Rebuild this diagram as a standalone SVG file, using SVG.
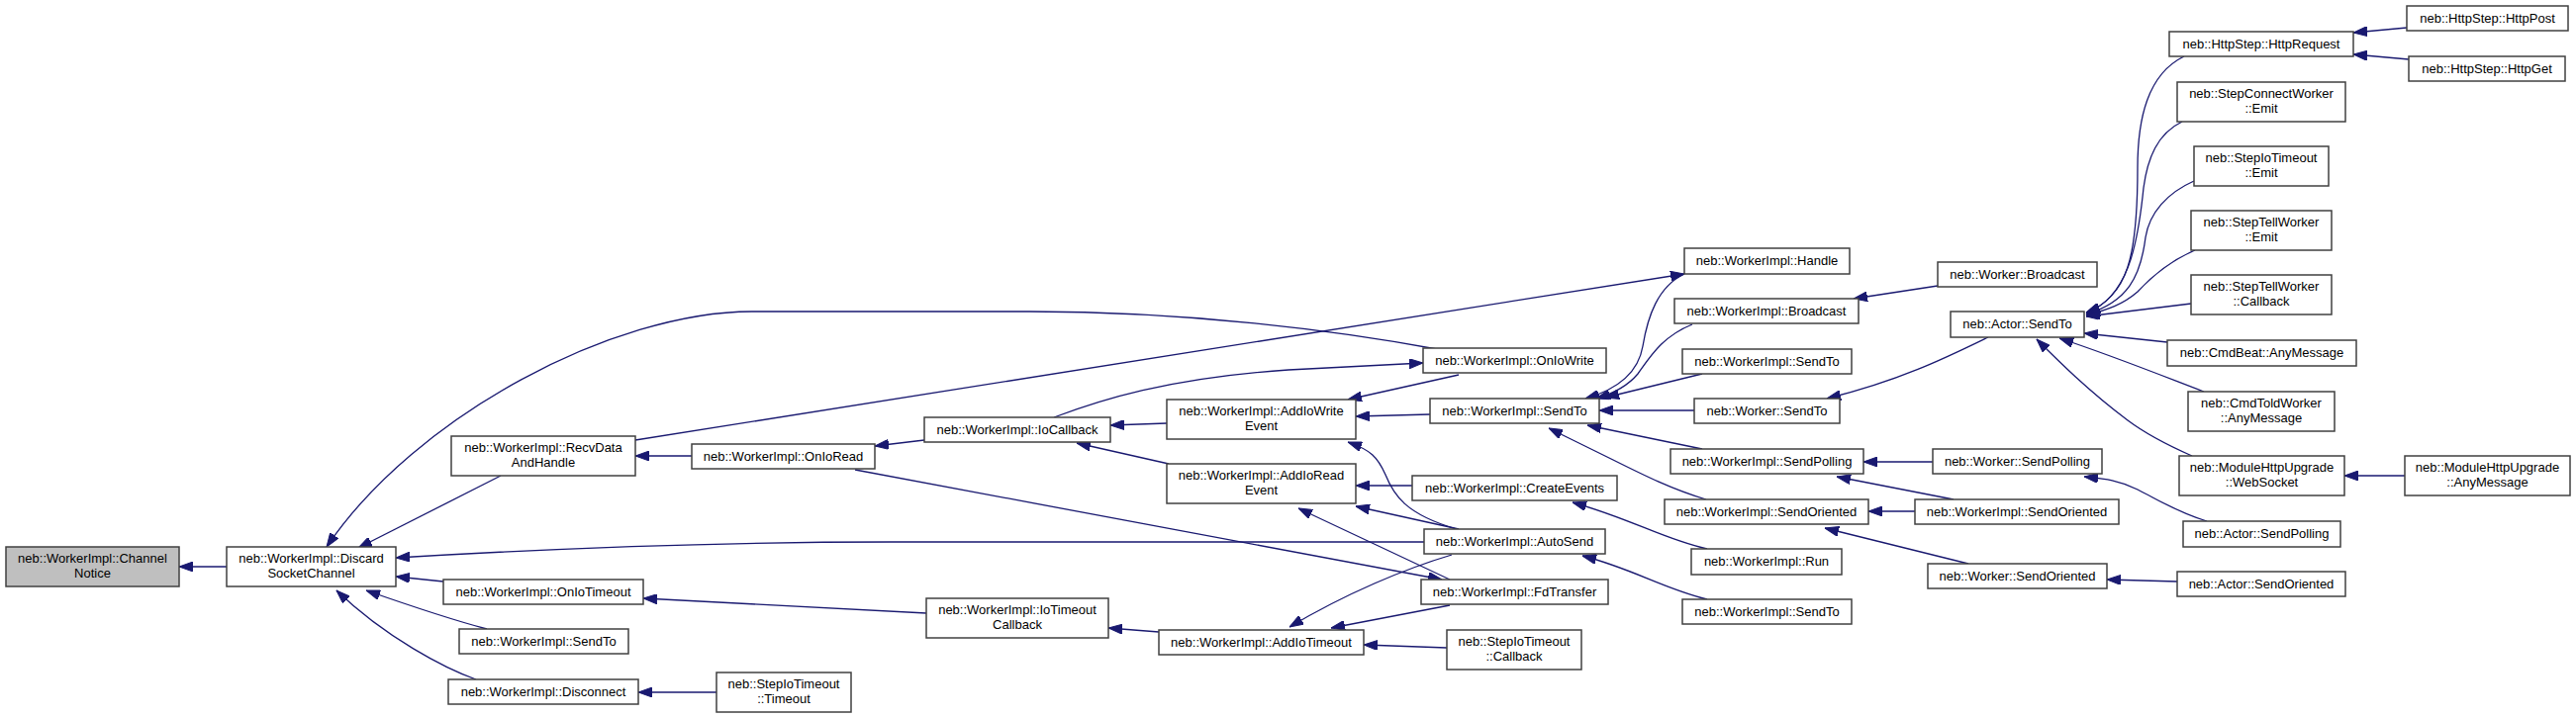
<svg xmlns="http://www.w3.org/2000/svg" width="2603" height="725" viewBox="0 0 2603 725">
<style>
.n rect{fill:#ffffff;stroke:#404040;stroke-width:1.5}
.n.root rect{fill:#bfbfbf}
.n text{font-family:"Liberation Sans",Arial,sans-serif;font-size:13px;fill:#000000;text-anchor:middle}
.e path{fill:none;stroke:#191970;stroke-width:1.3;marker-end:url(#ah)}
</style>
<defs>
<marker id="ah" viewBox="0 0 14 10" refX="14" refY="5" markerWidth="14" markerHeight="10" markerUnits="userSpaceOnUse" orient="auto">
<path d="M0,0 L14,5 L0,10 z" fill="#191970" stroke="#191970" stroke-width="1"/>
</marker>
</defs>
<rect x="0" y="0" width="2603" height="725" fill="#ffffff"/>
<g id="edges" class="e">
<path d="M229,573 L181,573"/>
<path d="M506,481 L362,554"/>
<path d="M1452,353 C1350,334 1200,315 1040,315 L760,315 C620,315 420,420 330,553"/>
<path d="M642,445 L1702,277"/>
<path d="M699,461 L642,461"/>
<path d="M934,445 L884,451"/>
<path d="M864,475 L1457,586"/>
<path d="M1439,548 L900,548 C700,548 500,558 400,564"/>
<path d="M448,588 L400,583"/>
<path d="M492,636 Q450,625 370,597"/>
<path d="M481,687 C450,676 390,645 340,597"/>
<path d="M936,620 L650,605"/>
<path d="M724,700 L645,700"/>
<path d="M1171,639 L1120,635"/>
<path d="M1179,428 L1122,430"/>
<path d="M1181,469 L1088,448"/>
<path d="M1065,422 C1110,405 1180,382 1302,374 L1438,367"/>
<path d="M1474,379 L1362,404"/>
<path d="M1445,419 L1370,421"/>
<path d="M1472,535 C1420,520 1408,500 1400,480 C1392,462 1385,455 1362,447"/>
<path d="M1427,491 L1370,491"/>
<path d="M1474,535 L1370,512"/>
<path d="M1465,586 L1312,514"/>
<path d="M1467,561 C1420,575 1360,600 1303,634"/>
<path d="M1465,612 L1345,635"/>
<path d="M1462,655 L1378,652"/>
<path d="M1725,606 C1680,595 1650,575 1599,562"/>
<path d="M1725,555 C1680,545 1650,525 1589,508"/>
<path d="M1702,277 C1675,290 1665,320 1660,350 C1655,380 1630,395 1602,403"/>
<path d="M1710,328 C1680,340 1668,360 1655,378 C1645,390 1630,398 1613,403"/>
<path d="M1720,378 L1622,402"/>
<path d="M1712,415 L1616,415"/>
<path d="M1720,454 L1604,430"/>
<path d="M1724,505 C1690,495 1660,480 1630,465 L1565,433"/>
<path d="M1958,289 L1873,302"/>
<path d="M2009,341 C1970,360 1920,385 1846,403"/>
<path d="M1953,467 L1883,467"/>
<path d="M1974,505 L1856,482"/>
<path d="M1935,517 L1888,517"/>
<path d="M1989,570 L1844,534"/>
<path d="M2230,527 C2200,518 2180,505 2160,495 C2140,485 2125,484 2106,482"/>
<path d="M2200,588 L2129,586"/>
<path d="M2207,57 C2170,75 2160,120 2160,170 C2160,260 2150,300 2108,316"/>
<path d="M2205,123 C2180,135 2170,160 2166,190 C2160,250 2150,300 2108,317"/>
<path d="M2217,183 C2190,195 2172,215 2168,240 C2163,280 2150,305 2108,318"/>
<path d="M2218,253 C2190,265 2172,282 2160,295 C2145,308 2130,313 2108,319"/>
<path d="M2214,307 L2108,320"/>
<path d="M2190,346 L2106,337"/>
<path d="M2227,396 C2180,378 2130,358 2081,342"/>
<path d="M2215,461 C2190,450 2170,440 2150,425 C2110,395 2080,365 2058,343"/>
<path d="M2432,28 L2378,33"/>
<path d="M2434,60 L2378,55"/>
<path d="M2430,481 L2369,481"/>
</g>
<g id="n_channelnotice" class="n root"><rect x="6" y="553" width="175" height="40"/><text x="93.5" y="569">neb::WorkerImpl::Channel</text><text x="93.5" y="584">Notice</text></g>
<g id="n_discard" class="n"><rect x="229" y="553" width="171" height="40"/><text x="314.5" y="569">neb::WorkerImpl::Discard</text><text x="314.5" y="584">SocketChannel</text></g>
<g id="n_recvdata" class="n"><rect x="456" y="441" width="186" height="40"/><text x="549" y="457">neb::WorkerImpl::RecvData</text><text x="549" y="472">AndHandle</text></g>
<g id="n_onioread" class="n"><rect x="699" y="449" width="185" height="25"/><text x="791.5" y="466">neb::WorkerImpl::OnIoRead</text></g>
<g id="n_oniotimeout" class="n"><rect x="448" y="586" width="202" height="25"/><text x="549" y="603">neb::WorkerImpl::OnIoTimeout</text></g>
<g id="n_sendto_a" class="n"><rect x="464" y="636" width="171" height="25"/><text x="549.5" y="653">neb::WorkerImpl::SendTo</text></g>
<g id="n_disconnect" class="n"><rect x="453" y="687" width="192" height="25"/><text x="549" y="704">neb::WorkerImpl::Disconnect</text></g>
<g id="n_timeout" class="n"><rect x="724" y="680" width="136" height="40"/><text x="792" y="696">neb::StepIoTimeout</text><text x="792" y="711">::Timeout</text></g>
<g id="n_iocallback" class="n"><rect x="934" y="422" width="188" height="25"/><text x="1028" y="439">neb::WorkerImpl::IoCallback</text></g>
<g id="n_iotimeoutcb" class="n"><rect x="936" y="605" width="184" height="40"/><text x="1028" y="621">neb::WorkerImpl::IoTimeout</text><text x="1028" y="636">Callback</text></g>
<g id="n_addiowrite" class="n"><rect x="1179" y="404" width="191" height="40"/><text x="1274.5" y="420">neb::WorkerImpl::AddIoWrite</text><text x="1274.5" y="435">Event</text></g>
<g id="n_addioread" class="n"><rect x="1179" y="469" width="191" height="40"/><text x="1274.5" y="485">neb::WorkerImpl::AddIoRead</text><text x="1274.5" y="500">Event</text></g>
<g id="n_addiotimeout" class="n"><rect x="1171" y="637" width="207" height="25"/><text x="1274.5" y="654">neb::WorkerImpl::AddIoTimeout</text></g>
<g id="n_oniowrite" class="n"><rect x="1438" y="352" width="185" height="25"/><text x="1530.5" y="369">neb::WorkerImpl::OnIoWrite</text></g>
<g id="n_sendto_b" class="n"><rect x="1445" y="403" width="171" height="25"/><text x="1530.5" y="420">neb::WorkerImpl::SendTo</text></g>
<g id="n_createevents" class="n"><rect x="1427" y="481" width="207" height="25"/><text x="1530.5" y="498">neb::WorkerImpl::CreateEvents</text></g>
<g id="n_autosend" class="n"><rect x="1439" y="535" width="183" height="25"/><text x="1530.5" y="552">neb::WorkerImpl::AutoSend</text></g>
<g id="n_fdtransfer" class="n"><rect x="1436" y="586" width="189" height="25"/><text x="1530.5" y="603">neb::WorkerImpl::FdTransfer</text></g>
<g id="n_callback" class="n"><rect x="1462" y="637" width="136" height="40"/><text x="1530" y="653">neb::StepIoTimeout</text><text x="1530" y="668">::Callback</text></g>
<g id="n_handle" class="n"><rect x="1702" y="251" width="167" height="26"/><text x="1785.5" y="268">neb::WorkerImpl::Handle</text></g>
<g id="n_broadcast" class="n"><rect x="1692" y="302" width="186" height="25"/><text x="1785" y="319">neb::WorkerImpl::Broadcast</text></g>
<g id="n_sendto_c" class="n"><rect x="1700" y="353" width="171" height="25"/><text x="1785.5" y="370">neb::WorkerImpl::SendTo</text></g>
<g id="n_worker_sendto" class="n"><rect x="1712" y="403" width="147" height="25"/><text x="1785.5" y="420">neb::Worker::SendTo</text></g>
<g id="n_sendpolling" class="n"><rect x="1688" y="454" width="195" height="25"/><text x="1785.5" y="471">neb::WorkerImpl::SendPolling</text></g>
<g id="n_sendoriented_a" class="n"><rect x="1682" y="505" width="206" height="25"/><text x="1785" y="522">neb::WorkerImpl::SendOriented</text></g>
<g id="n_run" class="n"><rect x="1709" y="555" width="152" height="26"/><text x="1785" y="572">neb::WorkerImpl::Run</text></g>
<g id="n_sendto_d" class="n"><rect x="1700" y="606" width="171" height="25"/><text x="1785.5" y="623">neb::WorkerImpl::SendTo</text></g>
<g id="n_worker_broadcast" class="n"><rect x="1958" y="265" width="161" height="25"/><text x="2038.5" y="282">neb::Worker::Broadcast</text></g>
<g id="n_actor_sendto" class="n"><rect x="1971" y="315" width="135" height="26"/><text x="2038.5" y="332">neb::Actor::SendTo</text></g>
<g id="n_worker_sendpolling" class="n"><rect x="1953" y="454" width="171" height="25"/><text x="2038.5" y="471">neb::Worker::SendPolling</text></g>
<g id="n_sendoriented_b" class="n"><rect x="1935" y="505" width="206" height="25"/><text x="2038" y="522">neb::WorkerImpl::SendOriented</text></g>
<g id="n_worker_sendoriented" class="n"><rect x="1948" y="570" width="181" height="25"/><text x="2038.5" y="587">neb::Worker::SendOriented</text></g>
<g id="n_httprequest" class="n"><rect x="2192" y="32" width="186" height="25"/><text x="2285" y="49">neb::HttpStep::HttpRequest</text></g>
<g id="n_httppost" class="n"><rect x="2432" y="6" width="163" height="25"/><text x="2513.5" y="23">neb::HttpStep::HttpPost</text></g>
<g id="n_httpget" class="n"><rect x="2434" y="57" width="158" height="25"/><text x="2513" y="74">neb::HttpStep::HttpGet</text></g>
<g id="n_stepconnect" class="n"><rect x="2200" y="83" width="170" height="40"/><text x="2285" y="99">neb::StepConnectWorker</text><text x="2285" y="114">::Emit</text></g>
<g id="n_stepiotimeout_emit" class="n"><rect x="2217" y="148" width="136" height="40"/><text x="2285" y="164">neb::StepIoTimeout</text><text x="2285" y="179">::Emit</text></g>
<g id="n_steptell_emit" class="n"><rect x="2214" y="213" width="142" height="40"/><text x="2285" y="229">neb::StepTellWorker</text><text x="2285" y="244">::Emit</text></g>
<g id="n_steptell_cb" class="n"><rect x="2214" y="278" width="142" height="40"/><text x="2285" y="294">neb::StepTellWorker</text><text x="2285" y="309">::Callback</text></g>
<g id="n_cmdbeat" class="n"><rect x="2190" y="344" width="191" height="26"/><text x="2285.5" y="361">neb::CmdBeat::AnyMessage</text></g>
<g id="n_cmdtold" class="n"><rect x="2211" y="396" width="148" height="40"/><text x="2285" y="412">neb::CmdToldWorker</text><text x="2285" y="427">::AnyMessage</text></g>
<g id="n_websocket" class="n"><rect x="2202" y="461" width="167" height="40"/><text x="2285.5" y="477">neb::ModuleHttpUpgrade</text><text x="2285.5" y="492">::WebSocket</text></g>
<g id="n_modany" class="n"><rect x="2430" y="461" width="167" height="40"/><text x="2513.5" y="477">neb::ModuleHttpUpgrade</text><text x="2513.5" y="492">::AnyMessage</text></g>
<g id="n_actor_sendpolling" class="n"><rect x="2206" y="527" width="159" height="26"/><text x="2285.5" y="544">neb::Actor::SendPolling</text></g>
<g id="n_actor_sendoriented" class="n"><rect x="2200" y="578" width="170" height="25"/><text x="2285" y="595">neb::Actor::SendOriented</text></g>
</svg>
